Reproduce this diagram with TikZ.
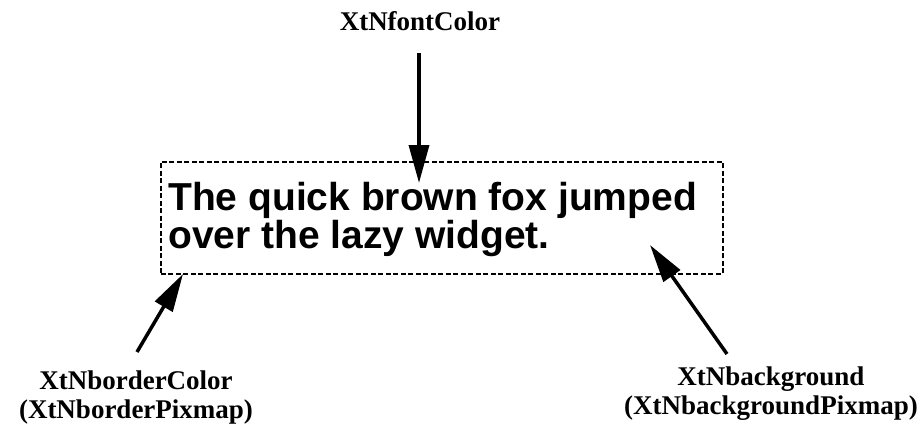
\documentclass[tikz,border=0pt]{standalone}
\usepackage{fontspec}
\setmainfont{Liberation Serif}
\newfontfamily\widgetfont{Liberation Sans}
\usetikzlibrary{arrows.meta}
\begin{document}
\begin{tikzpicture}[x=1pt,y=-1pt,
  label/.style={font=\bfseries\fontsize{27}{29}\selectfont, inner sep=0pt, align=center},
  pointer/.style={line width=3.5pt, -{Triangle[length=38pt,width=20pt]}},
  frame/.style={draw, line width=1.8pt, dash pattern=on 5pt off 2.5pt}]
  \useasboundingbox (0,0) rectangle (919,429);

  % the widget window with its dashed border
  \node[frame, minimum width=562pt, minimum height=112pt, inner sep=0pt, anchor=north west]
    (win) at (160,161) {};
  \node[font=\widgetfont\bfseries\fontsize{39}{36}\selectfont, align=left, inner sep=0pt,
        anchor=base west] (txt) at (168,248)
    {The quick brown fox jumped\\over the lazy widget.};

  % resource labels (anchored on the baseline of their last line)
  \node[label, anchor=base] (fc) at (420,30) {XtNfontColor};
  \node[label, anchor=base] (bc) at (136,418) {XtNborderColor\\(XtNborderPixmap)};
  \node[label, anchor=base] (bg) at (771,414) {XtNbackground\\(XtNbackgroundPixmap)};

  % arrow end points
  \coordinate (fcA) at (419,53);
  \coordinate (fcB) at (419,183);
  \coordinate (bcA) at (137,352);
  \coordinate (bcB) at (183,274);
  \coordinate (bgA) at (727,354);
  \coordinate (bgB) at (650,245);

  \draw[pointer] (fcA) -- (fcB);
  \draw[pointer] (bcA) -- (bcB);
  \draw[pointer] (bgA) -- (bgB);
\end{tikzpicture}
\end{document}
